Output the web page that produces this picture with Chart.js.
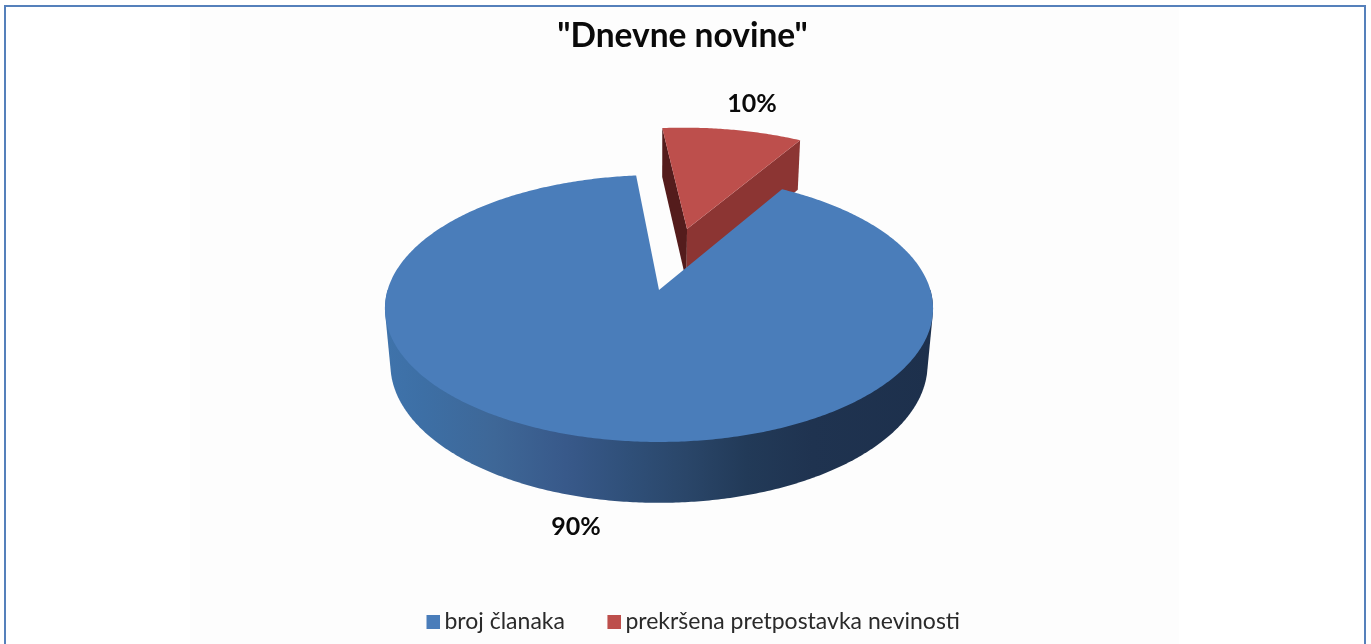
<!DOCTYPE html>
<html><head><meta charset="utf-8">
<style>
html,body{margin:0;padding:0;background:#fff;overflow:hidden}
#wrap{position:relative;width:1371px;height:644px}
#panel{position:absolute;left:190px;top:7px;width:989px;height:637px;background:#fdfdfd}
#frame{position:absolute;left:4px;top:5px;width:1358px;height:650px;border:2px solid #5580bb}
canvas{position:absolute;left:0;top:0}
</style></head><body>
<div id="wrap"><div id="panel"></div><div id="frame"></div><canvas id="c" width="1371" height="644"></canvas></div>
<script src="https://cdn.jsdelivr.net/npm/chart.js@4/dist/chart.umd.js"></script>
<script>
const categories = ["broj članaka", "prekršena pretpostavka nevinosti"];
const values = [90, 10];
const sliceColors = ["#4a7dba", "#bd4f4c"];
const titleText = '"Dnevne novine"';
const firstSliceRotation = 30.5;
const explosion = [0, 51];

// 3D look of the disc (perspective projection of a unit disc)
const view = {cx: 659, cy: 290, sx: 271.4, sy: 130.9, persp: 0.1386, depth: 56.7, depthPersp: 0.02};
const labelSpots = [{x: 576, y: 527}, {x: 752, y: 104}];

function project(x, y, lower) {
  const w = 1 - view.persp * y + (lower ? view.depthPersp : 0);
  return {
    x: view.cx + view.sx * x / w,
    y: view.cy + (view.sy * y + (lower ? view.depth : 0)) / w
  };
}
function polygon(ctx, pts) {
  ctx.beginPath();
  pts.forEach((p, i) => i ? ctx.lineTo(p.x, p.y) : ctx.moveTo(p.x, p.y));
  ctx.closePath();
}
function arcPoints(a0, a1, ox, oy, lower) {
  const pts = [], n = Math.max(2, Math.ceil(Math.abs(a1 - a0) / 0.01));
  for (let i = 0; i <= n; i++) {
    const a = a0 + (a1 - a0) * i / n;
    pts.push(project(Math.cos(a) + ox, Math.sin(a) + oy, lower));
  }
  return pts;
}
// outline of the rim: convex hull of the upper and lower front arcs
function hull(points) {
  const p = points.slice().sort((a, b) => a.x - b.x || a.y - b.y);
  const cross = (o, a, b) => (a.x - o.x) * (b.y - o.y) - (a.y - o.y) * (b.x - o.x);
  const half = list => {
    const out = [];
    for (const q of list) {
      while (out.length > 1 && cross(out[out.length - 2], out[out.length - 1], q) <= 0) out.pop();
      out.push(q);
    }
    out.pop();
    return out;
  };
  return [...half(p), ...half(p.slice().reverse())];
}
// legend swatch sits close to its text, so the square is drawn at the right of a wider image
function swatch(color) {
  const c = document.createElement('canvas');
  c.width = 29; c.height = 14;
  const x = c.getContext('2d');
  x.fillStyle = color; x.fillRect(15, 0, 14, 14);
  return c;
}

const pie3d = {
  id: 'pie3d',
  afterLayout(chart) {
    const l = chart.legend, t = chart.titleBlock;
    l.left += 4; l.right += 4;
    l.bottom += 575 - l.top; l.top = 575;
    t.left -= 3; t.right -= 3;
  },
  beforeDatasetsDraw(chart) {
    const ctx = chart.ctx, arcs = chart.getDatasetMeta(0).data;
    const geom = arcs.map(arc => {
      const mid = (arc.startAngle + arc.endAngle) / 2, e = (arc.options.offset || 0) / 100;
      return {arc, a0: arc.startAngle, a1: arc.endAngle, ox: Math.cos(mid) * e, oy: Math.sin(mid) * e};
    });
    ctx.save();
    // exploded red wedge: side walls, then top
    const r = geom[1];
    const ac = project(r.ox, r.oy, false), acL = project(r.ox, r.oy, true);
    const p0 = project(Math.cos(r.a0) + r.ox, Math.sin(r.a0) + r.oy, false);
    const p0L = project(Math.cos(r.a0) + r.ox, Math.sin(r.a0) + r.oy, true);
    const p1 = project(Math.cos(r.a1) + r.ox, Math.sin(r.a1) + r.oy, false);
    const p1L = project(Math.cos(r.a1) + r.ox, Math.sin(r.a1) + r.oy, true);
    polygon(ctx, [p0, ac, acL, p0L]); ctx.fillStyle = '#541c1c'; ctx.fill();
    polygon(ctx, [ac, p1, p1L, acL]); ctx.fillStyle = '#8c3533'; ctx.fill();
    polygon(ctx, [ac, ...arcPoints(r.a0, r.a1, r.ox, r.oy, false)]);
    ctx.fillStyle = r.arc.options.backgroundColor; ctx.fill();
    // large blue slice: rim wall (front half only), then top
    const b = geom[0];
    const rim = hull([...arcPoints(0, Math.PI, 0, 0, false), ...arcPoints(0, Math.PI, 0, 0, true)]);
    const g = ctx.createLinearGradient(385, 0, 933, 0);
    [[0, '#3f73ab'], [0.07, '#3d6fa5'], [0.2, '#3e6797'], [0.33, '#38598a'], [0.45, '#2f4f78'], [0.55, '#2a4669'], [0.66, '#223a58'], [0.78, '#1f3350'], [1, '#1d304c']]
      .forEach(s => g.addColorStop(s[0], s[1]));
    polygon(ctx, rim); ctx.fillStyle = g; ctx.fill();
    polygon(ctx, [project(0, 0, false), ...arcPoints(b.a0, b.a1, 0, 0, false)]);
    ctx.fillStyle = b.arc.options.backgroundColor; ctx.fill();
    // value labels
    ctx.fillStyle = '#0a0a0a'; ctx.font = 'bold 25px Lato'; ctx.textAlign = 'center'; ctx.textBaseline = 'middle';
    values.forEach((v, i) => ctx.fillText(v + '%', labelSpots[i].x, labelSpots[i].y));
    ctx.restore();
    return false;
  }
};

new Chart(document.getElementById('c'), {
  type: 'pie',
  data: {labels: categories, datasets: [{data: values, backgroundColor: sliceColors, offset: explosion, borderWidth: 0}]},
  options: {
    responsive: false, animation: false, rotation: firstSliceRotation,
    plugins: {
      title: {display: true, text: titleText, color: '#0a0a0a', font: {family: 'Lato', size: 33.5, weight: 'bold'}, padding: {top: 16, bottom: 8}},
      legend: {
        position: 'bottom',
        labels: {
          color: '#2a2a2a', font: {family: 'Lato', size: 23}, boxWidth: 14, boxHeight: 14, padding: 35, usePointStyle: true,
          generateLabels: chart => categories.map((text, i) => ({
            text, index: i, fillStyle: sliceColors[i], strokeStyle: sliceColors[i], lineWidth: 0,
            fontColor: '#2a2a2a', hidden: false, pointStyle: swatch(sliceColors[i])
          }))
        }
      },
      tooltip: {enabled: false}
    }
  },
  plugins: [pie3d]
});
</script>
</body></html>
